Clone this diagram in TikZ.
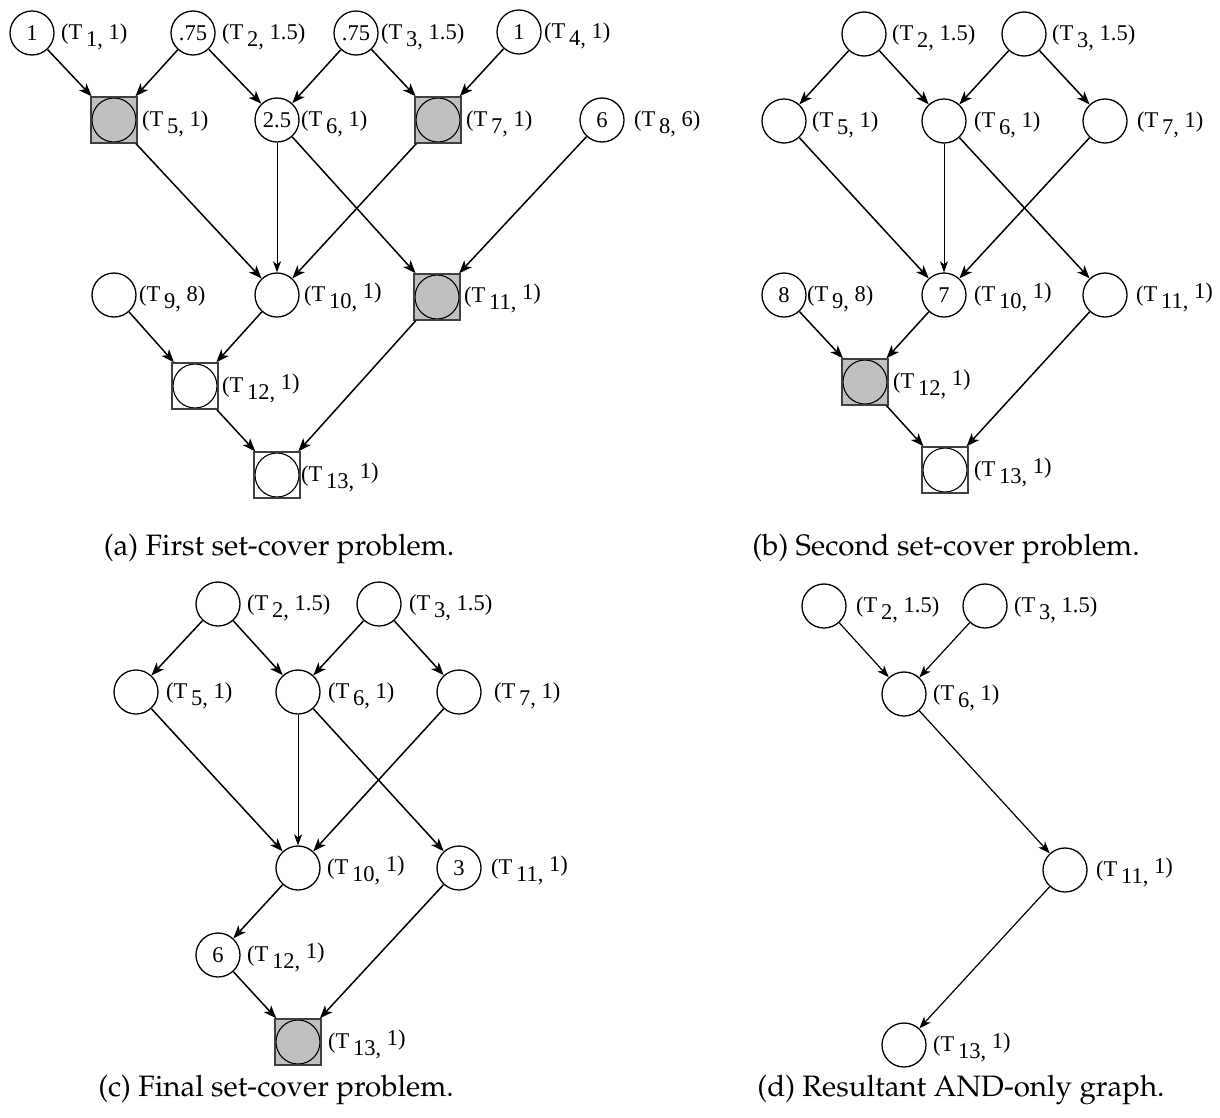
\documentclass[tikz,border=0pt]{standalone}
\usepackage[T1]{fontenc}
\usepackage{fontspec}
\setmainfont{Liberation Serif}
\usetikzlibrary{arrows.meta}
\definecolor{fillgray}{HTML}{C0C0C0}
\definecolor{sqborder}{HTML}{404040}
\newcommand\labf{\fontsize{22.5}{26}\selectfont}
\newcommand\capf{\fontencoding{T1}\fontfamily{ppl}\fontsize{29.5}{34}\selectfont}
\newcommand\tl[2]{(T\,\raisebox{-.33em}{#1,} #2)}
\newcommand\tlh[2]{(T\,\raisebox{-.33em}{#1,} \raisebox{.12em}{#2)}}
\tikzset{
  tnode/.style={circle, draw, line width=1.3pt, minimum size=44pt, inner sep=0pt, font=\labf},
  sqbox/.style={rectangle, draw=sqborder, line width=1.4pt, minimum size=46pt, inner sep=0pt,
    path picture={\draw[black, line width=1.1pt, fill=#1] (path picture bounding box.center) circle (22pt);}},
  sqg/.style={sqbox=fillgray, fill=fillgray},
  sqw/.style={sqbox=white, fill=white},
  lbl/.style={anchor=base west, inner sep=0pt, font=\labf},
  arr/.style={-{Stealth[length=13pt,width=10pt,inset=3.5pt]}, line width=1.5pt},
  varr/.style={-{Stealth[length=11pt,width=8pt,inset=3pt]}, line width=1pt},
  darr/.style={-{Stealth[length=12pt,width=9pt,inset=3.5pt]}, line width=1.2pt},
  captext/.style={anchor=base, inner sep=0pt, font=\capf}
}
\begin{document}
\begin{tikzpicture}[x=1pt,y=-1pt]
\useasboundingbox (0,0) rectangle (1220,1117);
% ---------- (a) ----------
\node[tnode] (a1) at (32,33) {1};
\node[tnode] (a2) at (193,33) {.75};
\node[tnode] (a3) at (356,33) {.75};
\node[tnode] (a4) at (519,32) {1};
\node[sqg] (a5) at (114,120) {};
\node[tnode] (a6) at (277,120) {2.5};
\node[sqg] (a7) at (438,120) {};
\node[tnode] (a8) at (602,120) {6};
\node[tnode] (a9) at (114,295) {};
\node[tnode] (a10) at (277,295) {};
\node[sqg] (a11) at (437,297) {};
\node[sqw] (a12) at (195,386) {};
\node[sqw] (a13) at (277,475) {};
\node[lbl] (la1) at (61,39) {\tl{1}{1}};
\node[lbl] (la2) at (222,39) {\tl{2}{1.5}};
\node[lbl] (la3) at (381,39) {\tl{3}{1.5}};
\node[lbl] (la4) at (544,38) {\tl{4}{1}};
\node[lbl] (la5) at (142,126) {\tl{5}{1}};
\node[lbl] (la6) at (301,126) {\tl{6}{1}};
\node[lbl] (la7) at (466,126) {\tl{7}{1}};
\node[lbl] (la8) at (634,126) {\tl{8}{6}};
\node[lbl] (la9) at (139,301) {\tl{9}{8}};
\node[lbl] (la10) at (304,301) {\tlh{10}{1}};
\node[lbl] (la11) at (464,302) {\tlh{11}{1}};
\node[lbl] (la12) at (222,392) {\tlh{12}{1}};
\node[lbl] (la13) at (301,481) {\tlh{13}{1}};
\draw[arr] (a1) -- (a5);
\draw[arr] (a2) -- (a5);
\draw[arr] (a2) -- (a6);
\draw[arr] (a3) -- (a6);
\draw[arr] (a3) -- (a7);
\draw[arr] (a4) -- (a7);
\draw[arr] (a5) -- (a10);
\draw[varr] (a6) -- (a10);
\draw[arr] (a7) -- (a10);
\draw[arr] (a6) -- (a11);
\draw[arr] (a8) -- (a11);
\draw[arr] (a9) -- (a12);
\draw[arr] (a10) -- (a12);
\draw[arr] (a12) -- (a13);
\draw[arr] (a11) -- (a13);
\node[captext] (capa) at (279,555) {(a) First set-cover problem.};
% ---------- (b) ----------
\node[tnode] (b2) at (864,34) {};
\node[tnode] (b3) at (1024,34) {};
\node[tnode] (b5) at (784,121) {};
\node[tnode] (b6) at (944,121) {};
\node[tnode] (b7) at (1105,121) {};
\node[tnode] (b9) at (784,295) {8};
\node[tnode] (b10) at (944,295) {7};
\node[tnode] (b11) at (1105,295) {};
\node[sqg] (b12) at (865,382) {};
\node[sqw] (b13) at (945,470) {};
\node[lbl] (lb2) at (892,40) {\tl{2}{1.5}};
\node[lbl] (lb3) at (1052,40) {\tl{3}{1.5}};
\node[lbl] (lb5) at (812,127) {\tl{5}{1}};
\node[lbl] (lb6) at (974,127) {\tl{6}{1}};
\node[lbl] (lb7) at (1137,127) {\tl{7}{1}};
\node[lbl] (lb9) at (807,301) {\tl{9}{8}};
\node[lbl] (lb10) at (974,301) {\tlh{10}{1}};
\node[lbl] (lb11) at (1136,301) {\tlh{11}{1}};
\node[lbl] (lb12) at (893,388) {\tlh{12}{1}};
\node[lbl] (lb13) at (974,476) {\tlh{13}{1}};
\draw[arr] (b2) -- (b5);
\draw[arr] (b2) -- (b6);
\draw[arr] (b3) -- (b6);
\draw[arr] (b3) -- (b7);
\draw[arr] (b5) -- (b10);
\draw[varr] (b6) -- (b10);
\draw[arr] (b7) -- (b10);
\draw[arr] (b6) -- (b11);
\draw[arr] (b9) -- (b12);
\draw[arr] (b10) -- (b12);
\draw[arr] (b12) -- (b13);
\draw[arr] (b11) -- (b13);
\node[captext] (capb) at (946,555) {(b) Second set-cover problem.};
% ---------- (c) ----------
\node[tnode] (c2) at (218,604) {};
\node[tnode] (c3) at (379,604) {};
\node[tnode] (c5) at (136,692) {};
\node[tnode] (c6) at (298,692) {};
\node[tnode] (c7) at (459,692) {};
\node[tnode] (c10) at (298,868) {};
\node[tnode] (c11) at (459,868) {3};
\node[tnode] (c12) at (218,955) {6};
\node[sqg] (c13) at (298,1042) {};
\node[lbl] (lc2) at (247,610) {\tl{2}{1.5}};
\node[lbl] (lc3) at (409,610) {\tl{3}{1.5}};
\node[lbl] (lc5) at (166,698) {\tl{5}{1}};
\node[lbl] (lc6) at (328,698) {\tl{6}{1}};
\node[lbl] (lc7) at (494,698) {\tl{7}{1}};
\node[lbl] (lc10) at (327,874) {\tlh{10}{1}};
\node[lbl] (lc11) at (491,874) {\tlh{11}{1}};
\node[lbl] (lc12) at (247,961) {\tlh{12}{1}};
\node[lbl] (lc13) at (328,1048) {\tlh{13}{1}};
\draw[arr] (c2) -- (c5);
\draw[arr] (c2) -- (c6);
\draw[arr] (c3) -- (c6);
\draw[arr] (c3) -- (c7);
\draw[arr] (c5) -- (c10);
\draw[varr] (c6) -- (c10);
\draw[arr] (c7) -- (c10);
\draw[arr] (c6) -- (c11);
\draw[arr] (c10) -- (c12);
\draw[arr] (c12) -- (c13);
\draw[arr] (c11) -- (c13);
\node[captext] (capc) at (276,1096) {(c) Final set-cover problem.};
% ---------- (d) ----------
\node[tnode] (d2) at (824,606) {};
\node[tnode] (d3) at (985,606) {};
\node[tnode] (d6) at (904,694) {};
\node[tnode] (d11) at (1065,870) {};
\node[tnode] (d13) at (904,1045) {};
\node[lbl] (ld2) at (856,612) {\tl{2}{1.5}};
\node[lbl] (ld3) at (1014,612) {\tl{3}{1.5}};
\node[lbl] (ld6) at (933,700) {\tl{6}{1}};
\node[lbl] (ld11) at (1096,876) {\tlh{11}{1}};
\node[lbl] (ld13) at (933,1051) {\tlh{13}{1}};
\draw[darr] (d2) -- (d6);
\draw[darr] (d3) -- (d6);
\draw[darr] (d6) -- (d11);
\draw[darr] (d11) -- (d13);
\node[captext] (capd) at (961,1096) {(d) Resultant AND-only graph.};
\end{tikzpicture}
\end{document}
